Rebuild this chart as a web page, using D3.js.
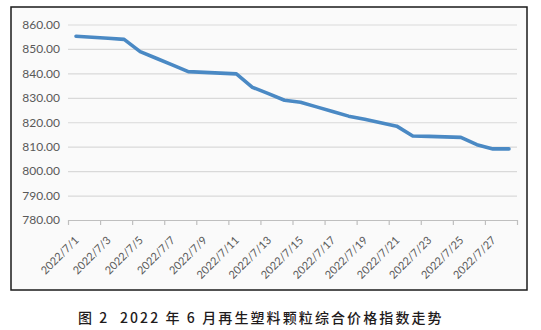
<!DOCTYPE html>
<html>
<head>
<meta charset="utf-8">
<script src="https://cdn.jsdelivr.net/npm/d3@7"></script>
<style>
  html, body { margin: 0; padding: 0; background: #ffffff; }
  svg { display: block; }
</style>
</head>
<body>
<svg id="chart" width="541" height="330"></svg>
<script>
// Daily composite price index of recycled plastic pellets, July 2022
const dates = [
  "2022/7/1", "2022/7/2", "2022/7/3", "2022/7/4", "2022/7/5", "2022/7/6", "2022/7/7",
  "2022/7/8", "2022/7/9", "2022/7/10", "2022/7/11", "2022/7/12", "2022/7/13", "2022/7/14",
  "2022/7/15", "2022/7/16", "2022/7/17", "2022/7/18", "2022/7/19", "2022/7/20", "2022/7/21",
  "2022/7/22", "2022/7/23", "2022/7/24", "2022/7/25", "2022/7/26", "2022/7/27", "2022/7/28"
];
const priceIndex = [
  855.2, 854.8, 854.4, 853.9, 848.9, 846.2, 843.5,
  840.7, 840.4, 840.1, 839.8, 834.3, 831.7, 829.0,
  828.2, 826.3, 824.4, 822.5, 821.2, 819.8, 818.4,
  814.4, 814.2, 814.0, 813.8, 810.8, 809.1, 809.1
];
const yTicks = [780, 790, 800, 810, 820, 830, 840, 850, 860];
const caption = "图 2  2022 年 6 月再生塑料颗粒综合价格指数走势";

const svg = d3.select("#chart");

// outer chart frame
svg.append("rect")
  .attr("x", 11).attr("y", 7)
  .attr("width", 516).attr("height", 283)
  .attr("fill", "#fafafa")
  .attr("stroke", "#1a1a1a")
  .attr("stroke-width", 1.5);

const plot = { left: 68, right: 517, top: 24.5, bottom: 220 };

const y = d3.scaleLinear()
  .domain([780, 860])
  .range([plot.bottom, plot.top]);

// category slots: one per day, tick marks on slot boundaries
const xSlot = d3.scaleLinear()
  .domain([0, dates.length])
  .range([plot.left, plot.right]);
const x = d => xSlot(dates.indexOf(d) + 0.5);

// horizontal gridlines + value labels
const yAxis = svg.append("g")
  .attr("transform", `translate(${plot.left},0)`)
  .call(d3.axisLeft(y)
    .tickValues(yTicks)
    .tickFormat(d3.format(".2f"))
    .tickSizeInner(-(plot.right - plot.left))
    .tickSizeOuter(0)
    .tickPadding(8));
yAxis.select(".domain").remove();
yAxis.selectAll(".tick line")
  .attr("stroke", d => d === 780 ? "#bfbfbf" : "#d9d9d9")
  .attr("stroke-width", 1.2);
yAxis.selectAll(".tick text")
  .attr("fill", "#595959")
  .style("font-family", "Lato, 'Open Sans', sans-serif")
  .style("font-size", "12px");

// category axis: tick marks every two days
const tickIdx = d3.range(0, dates.length + 1, 2);
const xAxis = svg.append("g")
  .attr("transform", `translate(0,${plot.bottom})`)
  .call(d3.axisBottom(xSlot)
    .tickValues(tickIdx)
    .tickFormat("")
    .tickSizeInner(5)
    .tickSizeOuter(0));
xAxis.select(".domain").attr("stroke", "#bfbfbf").attr("stroke-width", 1.2);
xAxis.selectAll(".tick line").attr("stroke", "#bfbfbf").attr("stroke-width", 1.2);

// rotated date labels on every other day
const labelDates = dates.filter((d, i) => i % 2 === 0);
svg.append("g")
  .selectAll("text")
  .data(labelDates)
  .join("text")
  .attr("transform", d => `translate(${x(d) + 3.5},241) rotate(-45)`)
  .attr("text-anchor", "end")
  .attr("fill", "#595959")
  .style("font-family", "Lato, 'Open Sans', sans-serif")
  .style("font-size", "11px")
  .text(d => d);

// index line
const line = d3.line()
  .x((v, i) => x(dates[i]))
  .y(v => y(v));
svg.append("path")
  .datum(priceIndex)
  .attr("d", line)
  .attr("fill", "none")
  .attr("stroke", "#4a89c4")
  .attr("stroke-width", 3.6)
  .attr("stroke-linejoin", "round")
  .attr("stroke-linecap", "round");

// figure caption
svg.append("text")
  .attr("x", 78)
  .attr("y", 323)
  .attr("fill", "#1f1b1c")
  .style("font-family", "'Noto Sans CJK SC', sans-serif")
  .style("font-size", "14px")
  .style("font-weight", "500")
  .style("letter-spacing", "2.1px")
  .style("white-space", "pre")
  .text(caption);
</script>
</body>
</html>
